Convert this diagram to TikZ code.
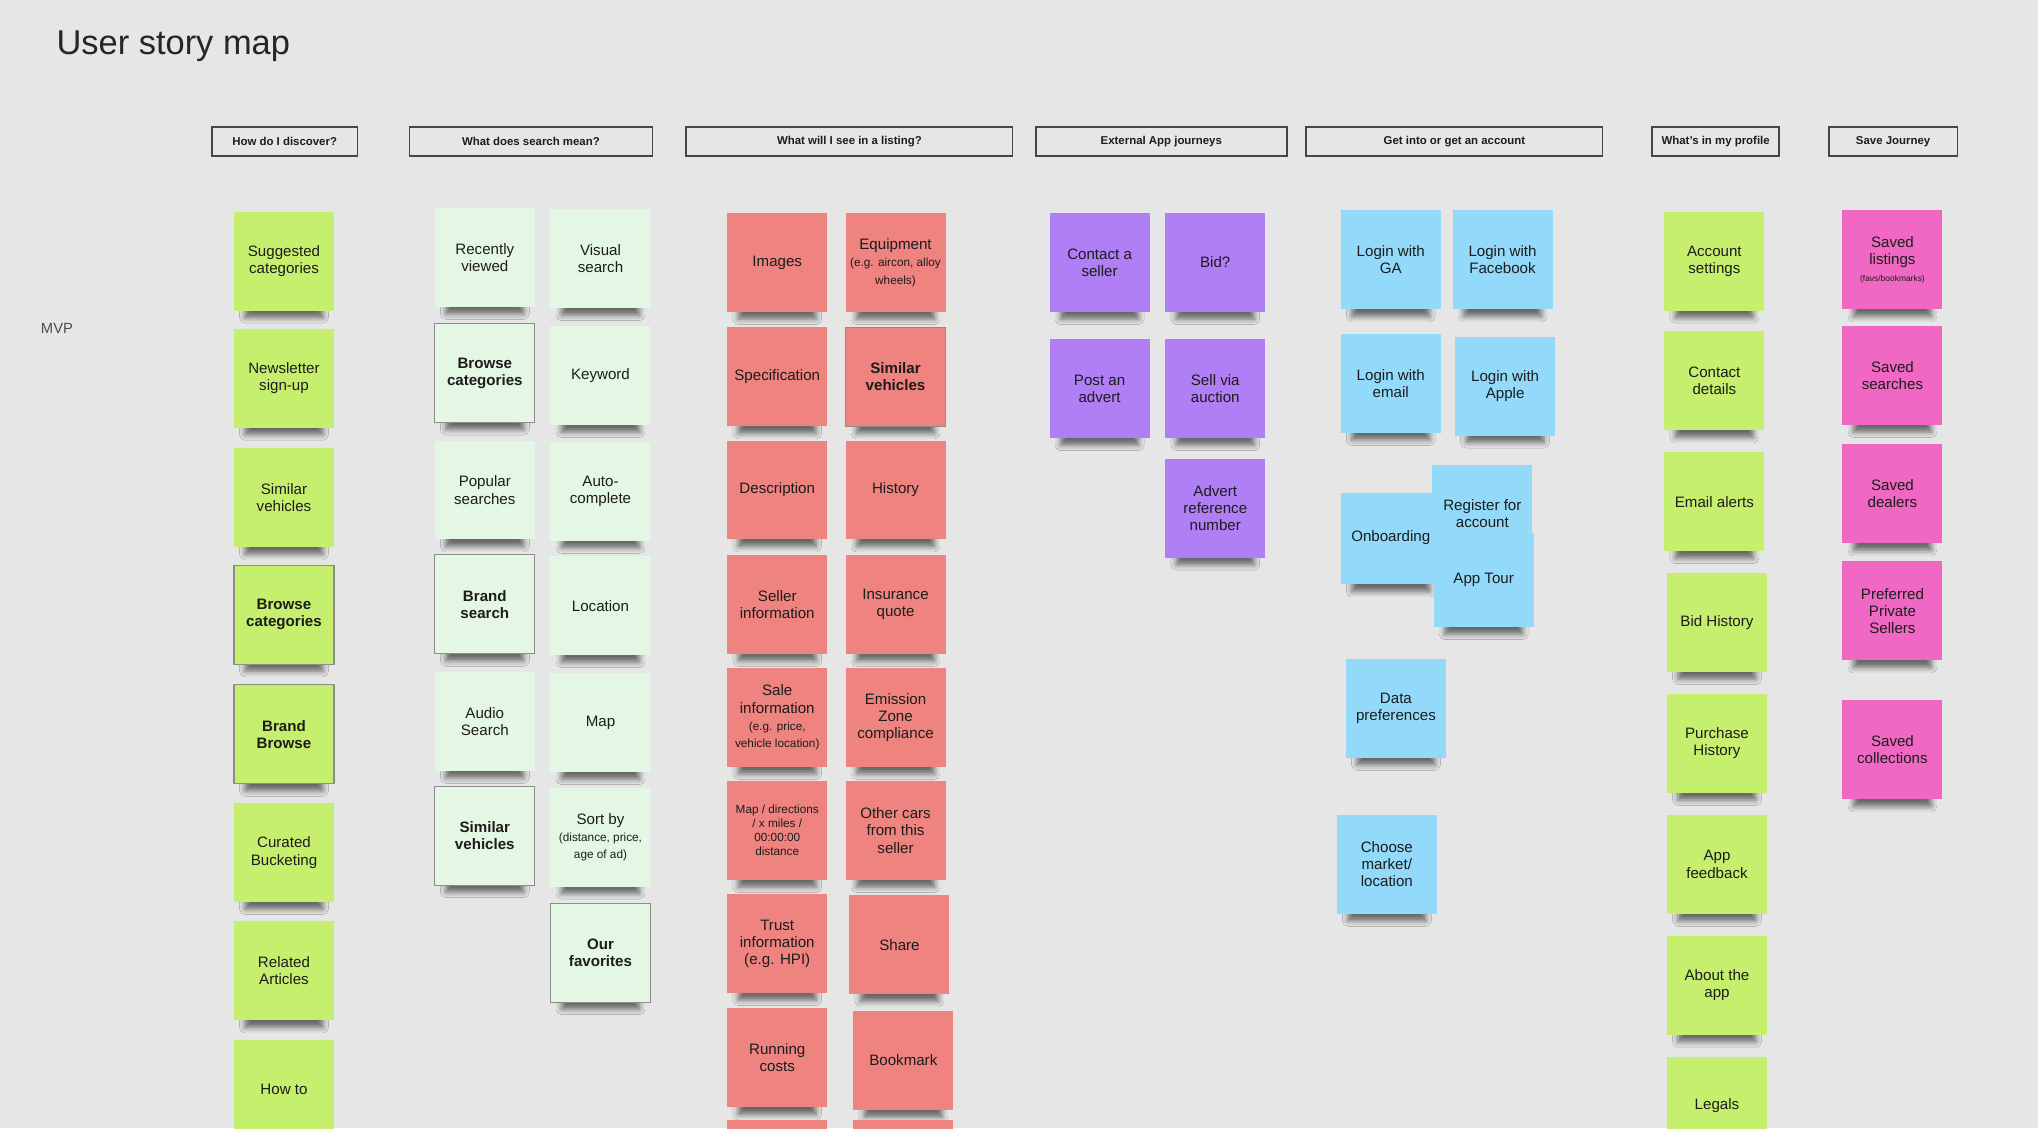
\documentclass[tikz,border=0pt]{standalone}
\usepackage{fontspec}
\setmainfont{Liberation Sans}
\usepackage{xcolor}
\usetikzlibrary{shadows.blur}
\definecolor{smbg}{RGB}{230,230,230}
\definecolor{smink}{RGB}{28,28,28}
\definecolor{smedge}{RGB}{140,140,140}
\definecolor{smframe}{RGB}{70,70,70}
\definecolor{smlime}{RGB}{198,239,110}
\definecolor{smmint}{RGB}{228,247,228}
\definecolor{smsalmon}{RGB}{238,131,128}
\definecolor{smviolet}{RGB}{176,126,245}
\definecolor{smsky}{RGB}{146,217,250}
\definecolor{smpink}{RGB}{240,104,195}
\newcommand{\smtxt}{\fontsize{3.35}{4}\selectfont}
\newcommand{\tinytxt}{\fontsize{2.4}{2.9}\selectfont}
\tikzset{
  title/.style={inner sep=0pt, font=\fontsize{9.8}{11}\selectfont, text=black!85},
  mvp/.style={inner sep=0pt, font=\fontsize{4.2}{5}\selectfont, text=black!70},
  header/.style={draw=smframe, line width=0.5pt, fill=smbg, minimum height=0.286cm, inner sep=0pt, font=\fontsize{3.25}{3.8}\selectfont\bfseries, text=smink},
  note/.style={minimum width=1cm, minimum height=0.99cm, inner sep=0.5pt, align=center, font=\fontsize{4.3}{4.9}\selectfont, text=smink,
    blur shadow={shadow xshift=0pt, shadow yshift=-0.23cm, shadow scale=0.78, shadow blur radius=0.07cm, shadow blur extra rounding=0pt, shadow opacity=55}},
  keynote/.style={draw=smedge, line width=0.3pt, font=\fontsize{4.3}{4.9}\selectfont\bfseries},
  limenote/.style={note, fill=smlime},
  mintnote/.style={note, fill=smmint},
  salmonnote/.style={note, fill=smsalmon},
  violetnote/.style={note, fill=smviolet},
  skynote/.style={note, fill=smsky},
  pinknote/.style={note, fill=smpink}
}
\begin{document}
\begin{tikzpicture}[x=0.013cm, y=-0.013cm]
  \fill[smbg] (0,0) rectangle (1568,868);
  \useasboundingbox (0,0) rectangle (1568,868);
  \clip (0,0) rectangle (1568,868);

  \node[title, anchor=base west] (title) at (43,42) {User story map};
  \node[mvp, anchor=west] (mvp) at (31,253) {MVP};

  % activity headers
  \node[header, minimum width=1.456cm] (hDisc) at (219,109) {How do I discover?};
  \node[header, minimum width=2.431cm] (hSearch) at (408.5,109) {What does search mean?};
  \node[header, minimum width=3.263cm] (hListing) at (653.5,109) {What will I see in a listing?};
  \node[header, minimum width=2.509cm] (hExt) at (893.5,109) {External App journeys};
  \node[header, minimum width=2.964cm] (hAcct) at (1119,109) {Get into or get an account};
  \node[header, minimum width=1.274cm] (hProf) at (1320,109) {What's in my profile};
  \node[header, minimum width=1.287cm] (hSave) at (1456.5,109) {Save Journey};

  % discover
  \node[limenote] (sugg) at (218.5,201) {Suggested\\categories};
  \node[limenote] (news) at (218.5,291) {Newsletter\\sign-up};
  \node[limenote] (simA) at (218.5,383) {Similar\\vehicles};
  \node[limenote, keynote] (catA) at (218.5,473) {Browse\\categories};
  \node[limenote, keynote] (brand) at (218.5,565) {Brand\\Browse};
  \node[limenote] (curated) at (218.5,656) {Curated\\Bucketing};
  \node[limenote] (related) at (218.5,747) {Related\\Articles};
  \node[limenote] (howto) at (218.5,838) {How to};

  % search
  \node[mintnote] (recent) at (373,198) {Recently\\viewed};
  \node[mintnote, keynote] (catB) at (373,287) {Browse\\categories};
  \node[mintnote] (popular) at (373,377) {Popular\\searches};
  \node[mintnote, keynote] (brandS) at (373,465) {Brand\\search};
  \node[mintnote] (audio) at (373,555) {Audio\\Search};
  \node[mintnote, keynote] (simB) at (373,643) {Similar\\vehicles};
  \node[mintnote] (visual) at (462,199) {Visual\\search};
  \node[mintnote] (keyword) at (462,289) {Keyword};
  \node[mintnote] (auto) at (462,378) {Auto-\\complete};
  \node[mintnote] (location) at (462,466) {Location};
  \node[mintnote] (map) at (462,556) {Map};
  \node[mintnote] (sort) at (462,644) {Sort by\\{\smtxt (distance, price,}\\{\smtxt age of ad)}};
  \node[mintnote, keynote] (fav) at (462,733) {Our\\favorites};

  % listing
  \node[salmonnote] (images) at (598,202) {Images};
  \node[salmonnote] (spec) at (598,290) {Specification};
  \node[salmonnote] (descr) at (598,377) {Description};
  \node[salmonnote] (seller) at (598,465) {Seller\\information};
  \node[salmonnote] (sale) at (598,552) {Sale\\information\\{\smtxt (e.g. price,}\\{\smtxt vehicle location)}};
  \node[salmonnote, font=\smtxt] (mapdir) at (598,639) {Map / directions\\/ x miles /\\00:00:00\\distance};
  \node[salmonnote] (trust) at (598,726) {Trust\\information\\(e.g. HPI)};
  \node[salmonnote] (running) at (598,814) {Running\\costs};
  \node[salmonnote] (moreA) at (598,900) {};
  \node[salmonnote] (equip) at (689,202) {Equipment\\{\smtxt (e.g. aircon, alloy}\\{\smtxt wheels)}};
  \node[salmonnote, keynote] (simC) at (689,290) {Similar\\vehicles};
  \node[salmonnote] (history) at (689,377) {History};
  \node[salmonnote] (insur) at (689,465) {Insurance\\quote};
  \node[salmonnote] (emission) at (689,552) {Emission\\Zone\\compliance};
  \node[salmonnote] (other) at (689,639) {Other cars\\from this\\seller};
  \node[salmonnote] (share) at (692,727) {Share};
  \node[salmonnote] (bookmark) at (695,816) {Bookmark};
  \node[salmonnote] (moreB) at (695,900) {};

  % external app
  \node[violetnote] (contact) at (846,202) {Contact a\\seller};
  \node[violetnote] (bid) at (935,202) {Bid?};
  \node[violetnote] (post) at (846,299) {Post an\\advert};
  \node[violetnote] (auction) at (935,299) {Sell via\\auction};
  \node[violetnote] (advref) at (935,391) {Advert\\reference\\number};

  % account
  \node[skynote] (ga) at (1070,200) {Login with\\GA};
  \node[skynote] (fb) at (1156,200) {Login with\\Facebook};
  \node[skynote] (email) at (1070,295) {Login with\\email};
  \node[skynote] (apple) at (1158,297) {Login with\\Apple};
  \node[skynote, minimum height=0.91cm] (onboard) at (1070,414) {Onboarding};
  \node[skynote, minimum height=0.96cm] (register) at (1140.5,395) {Register for\\account};
  \node[skynote, minimum height=0.94cm] (tour) at (1141.5,446) {App Tour};
  \node[skynote] (datapref) at (1074,545) {Data\\preferences};
  \node[skynote] (market) at (1067,665) {Choose\\market/\\location};

  % profile
  \node[limenote] (settings) at (1319,201) {Account\\settings};
  \node[limenote] (details) at (1319,293) {Contact\\details};
  \node[limenote] (alerts) at (1319,386) {Email alerts};
  \node[limenote] (bidhist) at (1321,479) {Bid History};
  \node[limenote] (purchase) at (1321,572) {Purchase\\History};
  \node[limenote] (feedback) at (1321,665) {App\\feedback};
  \node[limenote] (about) at (1321,758) {About the\\app};
  \node[limenote] (legals) at (1321,851) {Legals};

  % save journey
  \node[pinknote] (listings) at (1456,200) {Saved\\listings\\{\tinytxt (favs/bookmarks)}};
  \node[pinknote] (searches) at (1456,289) {Saved\\searches};
  \node[pinknote] (dealers) at (1456,380) {Saved\\dealers};
  \node[pinknote] (private) at (1456,470) {Preferred\\Private\\Sellers};
  \node[pinknote] (collect) at (1456,577) {Saved\\collections};
\end{tikzpicture}
\end{document}
